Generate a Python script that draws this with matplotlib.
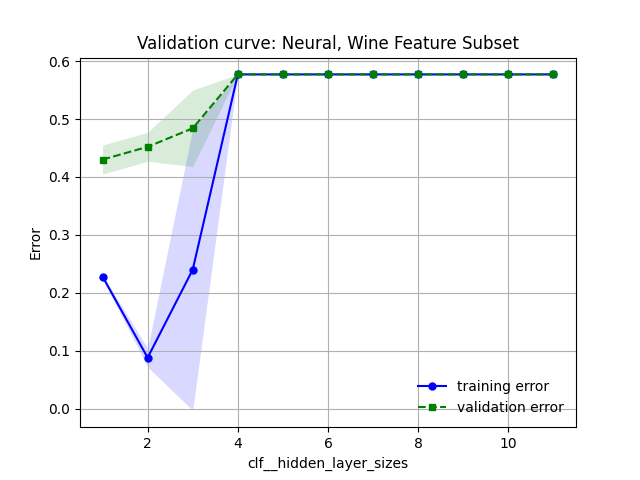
import numpy as np
import matplotlib
matplotlib.use('Agg')
import matplotlib.pyplot as plt

# hidden layer sizes vs error
sizes = np.arange(1, 12)
train_mean = np.array([0.228, 0.088, 0.240, 0.577, 0.577, 0.577, 0.577, 0.577, 0.577, 0.577, 0.577])
train_std = np.array([0.003, 0.016, 0.243, 0.0, 0.0, 0.0, 0.0, 0.0, 0.0, 0.0, 0.0])
val_mean = np.array([0.430, 0.452, 0.484, 0.577, 0.577, 0.577, 0.577, 0.577, 0.577, 0.577, 0.577])
val_std = np.array([0.025, 0.025, 0.066, 0.0, 0.0, 0.0, 0.0, 0.0, 0.0, 0.0, 0.0])

plt.figure(figsize=(6.4, 4.8), dpi=100)
plt.plot(sizes, train_mean, color='blue', marker='o', markersize=5, label='training error')
plt.fill_between(sizes, train_mean + train_std, train_mean - train_std, alpha=0.15, color='blue', linewidth=0)
plt.plot(sizes, val_mean, color='green', linestyle='--', marker='s', markersize=5, label='validation error')
plt.fill_between(sizes, val_mean + val_std, val_mean - val_std, alpha=0.15, color='green', linewidth=0)
plt.grid()
plt.title('Validation curve: Neural, Wine Feature Subset')
plt.xlabel('clf__hidden_layer_sizes')
plt.ylabel('Error')
plt.legend(loc='lower right', frameon=False)
plt.savefig('out.png')
